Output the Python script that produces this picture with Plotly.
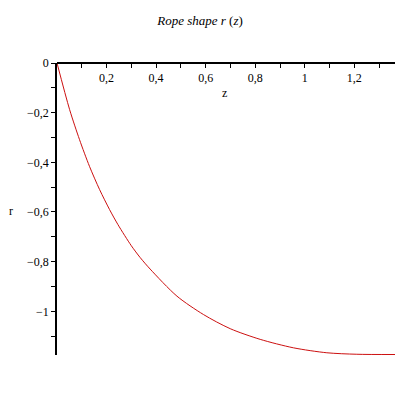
import plotly.graph_objects as go

# rope profile
z_vals = [0, 0.051, 0.091, 0.131, 0.172, 0.212, 0.246, 0.300, 0.336, 0.376,
          0.484, 0.591, 0.699, 0.820, 0.954, 1.089, 1.210, 1.364]
r_vals = [0, -0.188, -0.309, -0.416, -0.510, -0.590, -0.651, -0.736, -0.784, -0.830,
          -0.939, -1.013, -1.070, -1.113, -1.147, -1.167, -1.173, -1.174]

x_ticks = [0.2, 0.4, 0.6, 0.8, 1.0, 1.2]
x_minor = [0.1, 0.3, 0.5, 0.7, 0.9, 1.1, 1.3]
y_ticks = [0, -0.2, -0.4, -0.6, -0.8, -1.0]
y_minor = [-0.1, -0.3, -0.5, -0.7, -0.9, -1.1]

serif = "Liberation Serif"

fig = go.Figure()
fig.add_trace(go.Scatter(
    x=z_vals, y=r_vals, mode="lines",
    line=dict(color="#cc1010", width=1, shape="spline", smoothing=0.8),
    showlegend=False, hoverinfo="skip"
))

axis_common = dict(
    showgrid=False, zeroline=False, showline=True,
    linecolor="black", linewidth=1.5,
    ticks="outside", ticklen=4, tickwidth=1, tickcolor="black",
    tickfont=dict(family=serif, size=12, color="black"),
)

fig.update_layout(
    width=400, height=400,
    margin=dict(l=57, r=5, t=63, b=45),
    paper_bgcolor="white", plot_bgcolor="white",
    separators=", ",
    title=dict(text="<i>Rope shape r </i>(<i>z</i>)", x=0.5, xanchor="center",
               y=0.95, yanchor="middle",
               font=dict(family=serif, size=13, color="black")),
    xaxis=dict(range=[0, 1.364], tickvals=x_ticks, anchor="free", position=1,
               side="bottom", minor=dict(tickvals=x_minor, ticks="outside",
                                         ticklen=4, tickcolor="black"),
               **axis_common),
    yaxis=dict(range=[-1.176, 0], tickvals=y_ticks,
               minor=dict(tickvals=y_minor, ticks="outside",
                          ticklen=4, tickcolor="black"),
               **axis_common),
    annotations=[
        dict(text="z", xref="paper", yref="paper", x=0.497, y=0.897,
             xanchor="center", yanchor="middle", showarrow=False,
             font=dict(family=serif, size=12, color="black")),
        dict(text="r", xref="paper", yref="paper", x=-0.137, y=0.493,
             xanchor="center", yanchor="middle", showarrow=False,
             font=dict(family=serif, size=12, color="black")),
    ],
)

fig.write_html("out.html", config={"displayModeBar": False},
               post_script="document.body.style.margin='0';")
